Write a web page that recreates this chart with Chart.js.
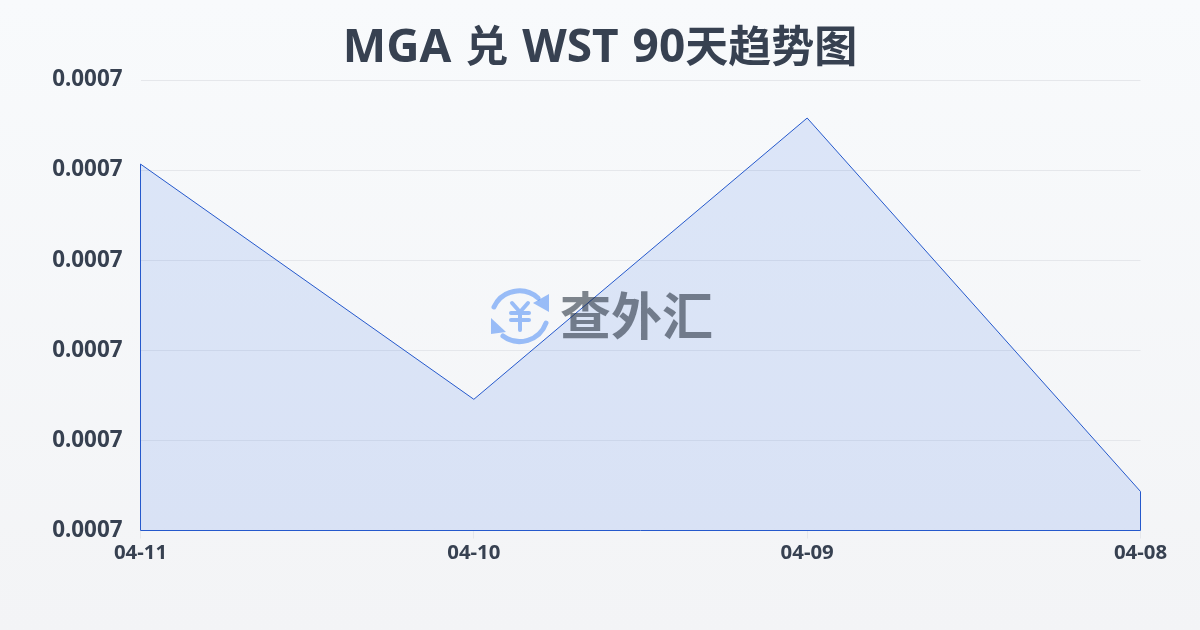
<!DOCTYPE html>
<html>
<head>
<meta charset="utf-8">
<script src="https://cdn.jsdelivr.net/npm/chart.js@4/dist/chart.umd.min.js"></script>
<style>
    html, body { margin: 0; padding: 0; }
    body {
        width: 1200px;
        height: 630px;
        overflow: hidden;
        position: relative;
        background: linear-gradient(180deg, #f8fafc 0%, #f3f4f6 100%);
    }
    #chart { position: absolute; left: 0; top: 0; }
    #title {
        position: absolute;
        left: 0;
        top: 8px;
        width: 1200px;
        text-align: center;
        font: 700 46px/70px "Noto Sans", "Noto Sans CJK SC", sans-serif;
        word-spacing: 2px;
        color: #374151;
        white-space: pre;
    }
    #title span { font-size: 43px; font-family: "Noto Sans CJK SC", sans-serif; }
    #logo-icon { position: absolute; left: 0; top: 0; pointer-events: none; }
    #logo-text {
        position: absolute;
        left: 560px;
        top: 278px;
        font: 700 51px/70px "Noto Sans CJK SC", sans-serif;
        color: rgba(31, 41, 55, 0.56);
        white-space: nowrap;
    }
</style>
</head>
<body>
<canvas id="chart" width="1200" height="630"></canvas>
<div id="title"></div>
<svg id="logo-icon" width="1200" height="630" viewBox="0 0 1200 630">
    <g fill="none" stroke="rgba(59,130,246,0.5)" stroke-width="5" stroke-linecap="round" stroke-linejoin="round">
        <path d="M494 307 A28 28 0 0 1 538 298"/>
        <path d="M546 323 A28 28 0 0 1 503 336"/>
        <path d="M512 303 L520 312 L528 303 M511 313 H529 M511 320 H529 M520 312 V330" stroke-width="4"/>
    </g>
    <g fill="rgba(59,130,246,0.5)">
        <path d="M549 312 L549 294 L533 303 Z"/>
        <path d="M491 318 L491 334 L506 332 Z"/>
    </g>
</svg>
<div id="logo-text">查外汇</div>
<script>
const dates = ['04-11', '04-10', '04-09', '04-08'];
const rates = [0.00072067, 0.00069456, 0.00072578, 0.00068433];
const yMin = 0.00068;
const yMax = 0.00073;
const yStep = 0.00001;
// latin and CJK runs of the title are different sizes in the reference
const titleParts = ['MGA ', '兑', ' WST 90', '天趋势图'];

const textColor = '#374151';
const lineColor = '#2559cc';
const fontFamily = '"Noto Sans", "Noto Sans CJK SC", sans-serif';

const titleEl = document.getElementById('title');
titleParts.forEach((part, i) => {
    const node = i % 2 ? document.createElement('span') : document.createTextNode(part);
    if (i % 2) node.textContent = part;
    titleEl.appendChild(node);
});

// Chart.js does not stroke the baseline of a filled line, the reference does
const closeOutline = {
    id: 'closeOutline',
    afterDatasetsDraw(chart) {
        const points = chart.getDatasetMeta(0).data;
        const base = chart.scales.y.getPixelForValue(yMin);
        const ctx = chart.ctx;
        ctx.save();
        ctx.strokeStyle = lineColor;
        ctx.lineWidth = 1;
        ctx.beginPath();
        ctx.moveTo(points[0].x, points[0].y);
        ctx.lineTo(points[0].x, base);
        ctx.lineTo(points[points.length - 1].x, base);
        ctx.lineTo(points[points.length - 1].x, points[points.length - 1].y);
        ctx.stroke();
        ctx.restore();
    }
};

new Chart(document.getElementById('chart').getContext('2d'), {
    type: 'line',
    data: {
        labels: dates,
        datasets: [{
            data: rates,
            borderColor: lineColor,
            borderWidth: 1,
            backgroundColor: 'rgba(37, 99, 235, 0.13)',
            fill: 'start',
            tension: 0,
            pointRadius: 0
        }]
    },
    options: {
        responsive: false,
        animation: false,
        layout: { padding: { left: 52.5, right: 59.5, top: 80, bottom: 49.5 } },
        plugins: {
            legend: { display: false },
            tooltip: { enabled: false }
        },
        scales: {
            x: {
                offset: false,
                afterFit(scale) { scale.height = 50; },
                grid: { color: '#e5e7eb', drawOnChartArea: false, tickLength: 8 },
                border: { display: false },
                ticks: {
                    color: textColor,
                    font: { family: fontFamily, size: 20.4, weight: 'bold' },
                    padding: 2,
                    maxRotation: 0,
                    autoSkip: false
                }
            },
            y: {
                min: yMin,
                max: yMax,
                afterFit(scale) { scale.width = 88; },
                grid: { color: '#e5e7eb', drawTicks: false },
                border: { display: false },
                ticks: {
                    stepSize: yStep,
                    color: textColor,
                    font: { family: fontFamily, size: 22.4, weight: 'bold' },
                    padding: 18,
                    callback: value => value.toFixed(4)
                }
            }
        }
    },
    plugins: [closeOutline]
});
</script>
</body>
</html>
